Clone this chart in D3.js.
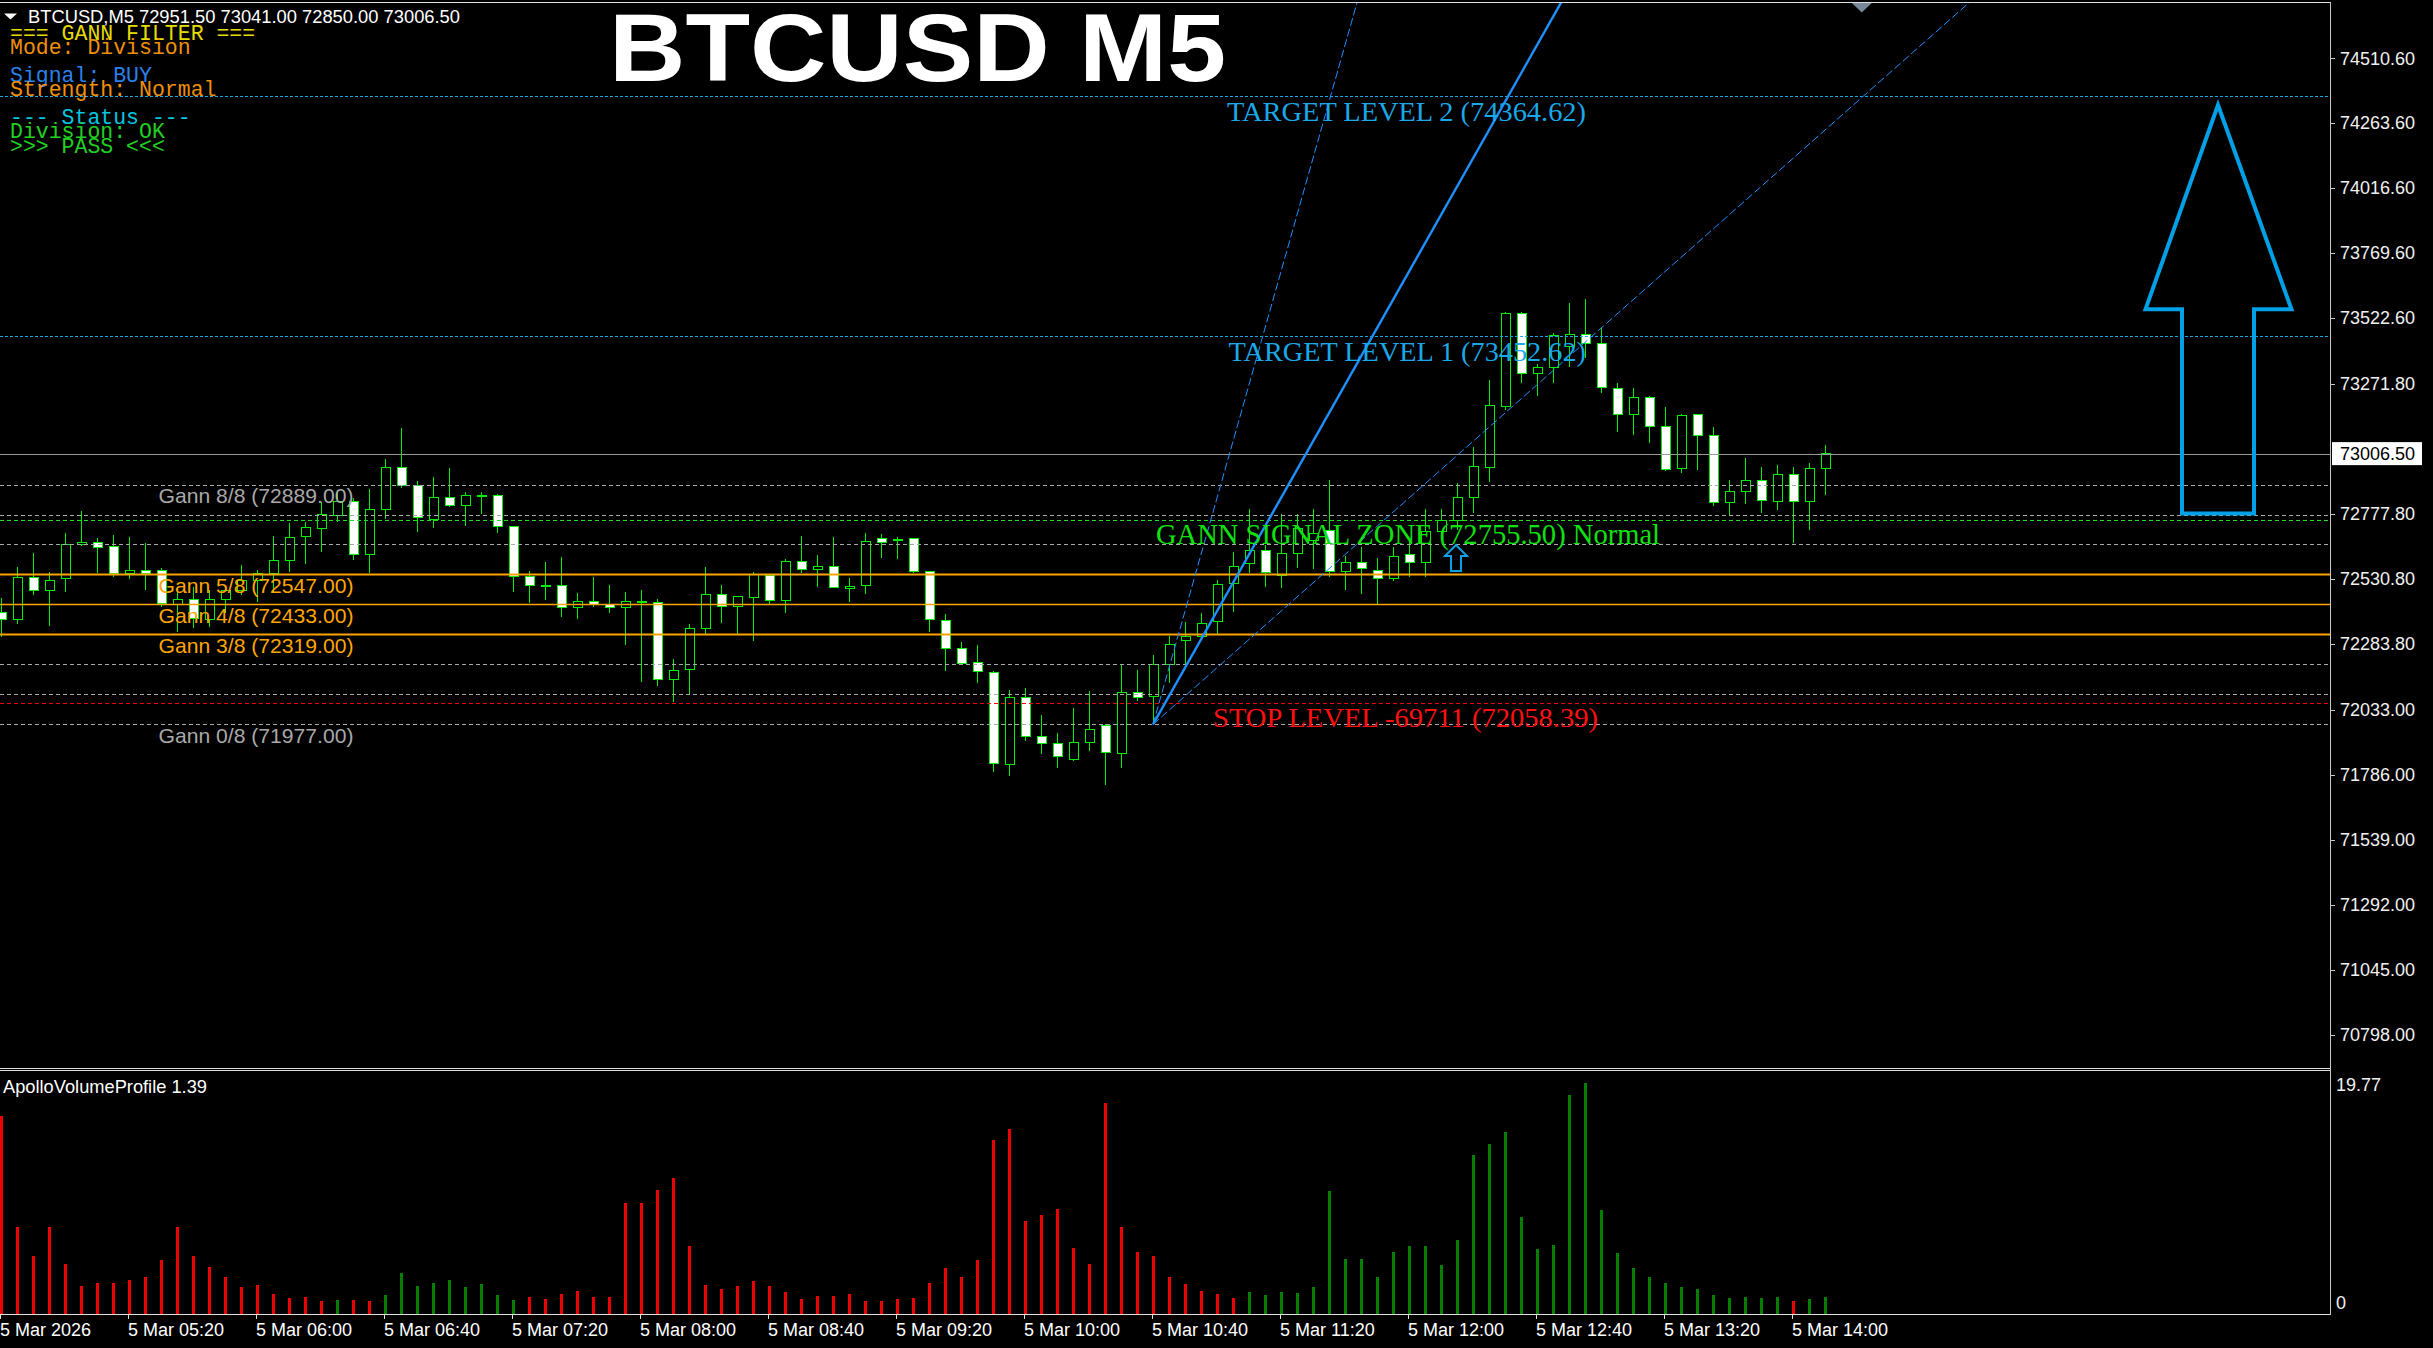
<!DOCTYPE html>
<html><head><meta charset="utf-8">
<script src="https://cdn.jsdelivr.net/npm/d3@7"></script>
<style>html,body{margin:0;padding:0;background:#000;overflow:hidden}</style>
</head><body>
<svg id="c" width="2433" height="1348"></svg>
<script>
// ---------------- DATA ----------------
const timeLabels = ["5 Mar 2026","5 Mar 05:20","5 Mar 06:00","5 Mar 06:40","5 Mar 07:20","5 Mar 08:00","5 Mar 08:40","5 Mar 09:20","5 Mar 10:00","5 Mar 10:40","5 Mar 11:20","5 Mar 12:00","5 Mar 12:40","5 Mar 13:20","5 Mar 14:00"];
const timeTickIdx = [0,8,16,24,32,40,48,56,64,72,80,88,96,104,112];

const open = [
72401.6,72376.5,72536.2,72486.8,72532.4,72661.7,72667.8,72652.6,72551.4,72561.3,
72561.3,72434.7,72452.6,72376.5,72452.6,72487.9,72523.3,72548.8,72599.3,72690.6,
72722.5,72770.4,72826.3,72623.7,72794.7,72954.4,72886.0,72757.9,72840.4,72811.1,
72847.2,72848.0,72728.6,72541.1,72504.3,72506.9,72422.2,72443.4,72434.7,72422.2,
72443.4,72439.6,72148.4,72186.4,72340.8,72471.6,72424.4,72460.2,72544.9,72447.2,
72598.2,72566.6,72578.0,72494.4,72505.8,72684.5,72679.9,72683.0,72557.5,72372.7,
72266.3,72211.5,72175.0,71825.2,72080.0,71930.2,71905.1,71844.2,71908.9,71972.0,
71867.1,72097.5,72082.3,72205.4,72295.2,72310.4,72367.4,72513.4,72589.4,72637.3,
72544.9,72627.5,72678.0,72716.0,72557.5,72591.7,72564.0,72532.4,72624.8,72591.7,
72709.6,72754.1,72840.4,72954.4,73187.5,73539.9,73311.8,73334.6,73412.9,73461.2,
73425.9,73254.8,73155.9,73220.6,73108.8,72950.6,73154.4,73076.1,72819.8,72864.3,
72906.1,72826.3,72927.8,72826.3,72951.5];
const high = [
72456.4,72574.2,72627.5,72555.2,72703.5,72788.3,72684.5,72697.0,72688.3,72665.5,
72570.4,72494.4,72500.5,72487.9,72503.1,72583.0,72564.0,72693.2,72743.8,72747.6,
72823.6,72868.1,72836.6,72870.8,72984.8,73102.7,72903.5,72916.4,72950.6,72860.5,
72860.5,72852.9,72728.6,72560.2,72593.2,72612.2,72475.4,72536.2,72506.9,72479.2,
72487.9,72452.6,72224.4,72358.7,72574.2,72506.9,72465.1,72556.4,72546.8,72605.8,
72693.2,72621.0,72688.3,72532.4,72704.6,72699.7,72688.3,72683.0,72557.5,72396.7,
72289.1,72278.8,72180.0,72107.7,72114.2,72012.7,71943.1,72038.2,72103.9,71977.3,
72202.8,72183.8,72240.8,72313.0,72365.1,72399.3,72525.9,72633.5,72794.7,72659.0,
72775.7,72776.9,72794.7,72906.1,72617.2,72650.3,72608.4,72652.6,72671.6,72794.7,
72794.7,72893.6,73030.5,73286.3,73546.0,73546.0,73347.2,73463.9,73578.0,73593.2,
73489.0,73276.1,73254.8,73225.5,73184.8,73155.9,73154.4,73108.8,72906.1,72988.6,
72956.7,72963.2,72954.4,72971.9,73041.0];
const low = [
72308.1,72359.8,72470.1,72352.2,72481.5,72655.2,72551.4,72536.2,72529.7,72487.9,
72424.4,72329.4,72342.3,72346.1,72400.5,72468.9,72443.4,72475.4,72557.5,72586.8,
72633.5,72747.6,72602.0,72551.4,72756.7,72874.6,72709.6,72724.8,72802.3,72732.4,
72776.9,72705.8,72481.5,72439.6,72449.9,72384.1,72376.5,72424.4,72401.6,72278.8,
72139.3,72122.9,72062.1,72091.4,72315.7,72363.6,72319.5,72295.2,72434.7,72401.6,
72553.7,72500.5,72498.2,72443.4,72473.9,72610.7,72606.9,72553.7,72329.4,72181.1,
72202.8,72135.5,71797.1,71781.9,71913.8,71864.4,71810.0,71838.9,71874.1,71746.5,
71810.0,72067.0,71977.0,72133.2,72196.3,72310.4,72316.8,72405.4,72551.4,72498.2,
72494.4,72570.4,72566.6,72538.5,72487.9,72471.6,72430.9,72523.3,72538.5,72536.2,
72684.5,72716.0,72779.5,72899.7,73172.3,73273.8,73225.5,73273.8,73334.6,73368.8,
73238.1,73089.8,73077.2,73045.7,72941.5,72931.6,72944.2,72807.3,72773.1,72813.7,
72781.8,72792.1,72667.8,72716.0,72850.0];
const close = [
72376.5,72536.2,72486.8,72524.8,72661.7,72667.8,72650.3,72548.8,72561.3,72551.4,
72437.4,72452.6,72380.3,72452.6,72487.9,72525.9,72548.8,72599.3,72688.3,72726.3,
72775.7,72823.6,72623.7,72794.7,72954.4,72887.1,72764.3,72840.4,72811.1,72848.0,
72849.1,72728.6,72541.1,72506.9,72505.8,72422.2,72443.4,72434.7,72422.2,72443.4,
72445.0,72148.4,72181.1,72342.3,72471.6,72427.1,72464.0,72547.6,72447.2,72598.2,
72566.6,72578.0,72498.2,72503.1,72673.1,72667.8,72680.7,72560.2,72376.5,72266.3,
72209.2,72180.0,71829.0,72080.0,71930.2,71905.1,71854.1,71908.9,71958.3,71870.9,
72099.0,72080.0,72205.4,72281.5,72313.0,72361.3,72509.6,72576.5,72640.0,72555.2,
72627.5,72722.5,72704.6,72557.5,72591.7,72570.4,72532.4,72614.5,72591.7,72709.6,
72751.4,72840.4,72958.2,73188.6,73539.9,73311.8,73334.6,73457.4,73461.2,73425.9,
73258.6,73155.9,73220.6,73111.4,72946.8,73152.1,73077.2,72819.8,72863.2,72903.5,
72830.1,72927.8,72826.3,72949.1,73006.5];

const volume = [
16.9,7.46,4.96,7.46,4.30,2.39,2.68,2.68,2.91,3.16,
4.62,7.46,4.96,4.02,3.16,2.31,2.48,1.71,1.37,1.45,
1.14,1.22,1.22,1.14,1.62,3.53,2.39,2.68,2.91,2.31,
2.56,1.62,1.20,1.45,1.28,1.71,1.97,1.45,1.45,9.49,
9.49,10.6,11.62,5.81,2.48,2.14,2.39,2.82,2.39,1.88,
1.28,1.54,1.54,1.71,1.11,1.11,1.28,1.37,2.68,3.96,
3.16,4.62,14.87,15.81,7.95,8.46,8.97,5.64,4.27,18.0,
7.46,5.30,4.96,3.16,2.56,1.97,1.71,1.37,1.88,1.62,
1.88,1.79,2.31,10.51,4.70,4.70,3.16,5.30,5.81,5.81,
4.19,6.32,13.59,14.53,15.56,8.29,5.56,5.90,18.72,19.74,
8.89,5.21,3.93,3.16,2.65,2.31,2.14,1.62,1.37,1.45,
1.37,1.45,1.11,1.28,1.45];
const volumeDir = [
"d","d","d","d","d","d","d","d","d","d",
"d","d","d","d","d","d","d","d","d","d",
"d","u","d","d","u","u","u","u","u","u",
"u","u","u","d","d","d","d","d","d","d",
"d","d","d","d","d","d","d","d","d","d",
"d","d","d","d","d","d","d","d","d","d",
"d","d","d","d","d","d","d","d","d","d",
"d","d","d","d","d","d","d","d","u","u",
"u","u","u","u","u","u","u","u","u","u",
"u","u","u","u","u","u","u","u","u","u",
"u","u","u","u","u","u","u","u","u","u",
"u","u","d","u","u"];

const priceTicks = [74510.60,74263.60,74016.60,73769.60,73522.60,73271.80,72777.80,72530.80,72283.80,72033.00,71786.00,71539.00,71292.00,71045.00,70798.00];
const volMax = 19.77;

const gannNames  = ["8/8","7/8","6/8","5/8","4/8","3/8","2/8","1/8","0/8"];
const gannPrices = [72889,72775,72661,72547,72433,72319,72205,72091,71977];
const gannLabelled = ["8/8","5/8","4/8","3/8","0/8"];

const lastPrice = 73006.50;
const headerOHLC = [72951.50,73041.00,72850.00,73006.50];
const target1 = 73452.62, target2 = 74364.62, stopLevel = 72058.39, stopPips = -69711, signalZone = 72755.50;
const fanOriginBar = 72, fanOriginPrice = 71977, fanRate = 107.6;
const fanMultipliers = [2, 1, 0.5];
const signalArrowBar = 91, signalArrowPrice = 72659;
const bigArrowPrices = {tip:74332, head:73555, bottom:72779};

// ---------------- LAYOUT ----------------
const W=2433, H=1348, plotR=2330, mainTop=3, mainBot=1068, volBot=1314;
const svg = d3.select("#c");
svg.append("rect").attr("width",W).attr("height",H).attr("fill","#000");

const x  = d3.scaleLinear().domain([0,114]).range([1,1825]);
const y  = d3.scaleLinear().domain([74510.6,70798]).range([58,1034.5]);
const yv = d3.scaleLinear().domain([0,volMax]).range([volBot,1082.7]);
const px = v => Math.round(v)+0.5;

svg.append("defs").append("clipPath").attr("id","mainClip")
  .append("rect").attr("x",0).attr("y",mainTop).attr("width",plotR).attr("height",mainBot-mainTop);

const main = svg.append("g").attr("clip-path","url(#mainClip)");

// ---- candles ----
const idx = d3.range(open.length);
const cg = main.append("g").attr("shape-rendering","crispEdges");
const candleGreen = "#00EE00";
cg.selectAll("line.w").data(idx).join("line")
  .attr("x1",i=>x(i)+0.5).attr("x2",i=>x(i)+0.5)
  .attr("y1",i=>y(high[i])).attr("y2",i=>y(low[i]))
  .attr("stroke",candleGreen).attr("stroke-width",1);
cg.selectAll("rect.b").data(idx).join("rect")
  .attr("x",i=>x(i)-4).attr("width",9)
  .attr("y",i=>y(Math.max(open[i],close[i])))
  .attr("height",i=>Math.max(Math.abs(y(open[i])-y(close[i])),1))
  .attr("fill",i=>close[i]>=open[i]?"#000":"#FFFFFF")
  .attr("stroke",candleGreen).attr("stroke-width",1);

// ---- horizontal levels ----
function hline(p, color, w, dash){
  main.append("line").attr("x1",0).attr("x2",plotR)
    .attr("y1",px(y(p))).attr("y2",px(y(p)))
    .attr("stroke",color).attr("stroke-width",w)
    .attr("stroke-dasharray",dash||null);
}
gannNames.forEach((n,k)=>{
  const p = gannPrices[k];
  if(n==="5/8"||n==="3/8") hline(p,"#FFA500",2.2);
  else if(n==="4/8") hline(p,"#FFA500",1.3);
  else hline(p,"#A9A9A9",1,"4,3");
});
hline(target2,"#1AA8E8",1,"3,2");
hline(target1,"#1AA8E8",1,"3,2");
hline(signalZone,"#22DD22",1,"4,3");
hline(stopLevel,"#FF0000",1,"4,3");
hline(lastPrice,"#9A9A9A",1);

// ---- Gann fan ----
fanMultipliers.forEach(m=>{
  const k = 60;
  main.append("line")
    .attr("x1",x(fanOriginBar)).attr("y1",y(fanOriginPrice))
    .attr("x2",x(fanOriginBar+k)).attr("y2",y(fanOriginPrice+fanRate*m*k))
    .attr("stroke","#1E90FF")
    .attr("stroke-width",m===1?2.4:1)
    .attr("stroke-dasharray",m===1?null:"8,3");
});

// ---- signal arrow (hollow) ----
{
  const tx = x(signalArrowBar)-1, ty = y(signalArrowPrice);
  const pts = [[tx,ty],[tx+11,ty+11],[tx+5,ty+11],[tx+5,ty+26],[tx-5,ty+26],[tx-5,ty+11],[tx-11,ty+11]];
  main.append("path").attr("d",d3.line()(pts)+"Z").attr("fill","none")
    .attr("stroke","#0A9FE6").attr("stroke-width",2);
}

// ---- Big arrow ----
{
  const cx = plotR-112;
  const t=y(bigArrowPrices.tip), hb=y(bigArrowPrices.head), b=y(bigArrowPrices.bottom);
  const pts=[[cx,t],[cx+73.5,hb],[cx+36,hb],[cx+36,b],[cx-36,b],[cx-36,hb],[cx-72.5,hb]];
  main.append("path").attr("d",d3.line()(pts)+"Z").attr("fill","none")
    .attr("stroke","#00A0E6").attr("stroke-width",4).attr("stroke-linejoin","miter");
}

// ---- chart shift marker ----
{
  const cx = x(116.3);
  svg.append("path").attr("d",d3.line()([[cx-10,3],[cx+10,3],[cx,12.5]])+"Z").attr("fill","#778899");
}

// ---- texts on main ----
const T = main.append("g");
gannNames.forEach((n,k)=>{
  if(!gannLabelled.includes(n)) return;
  const orange = (n==="5/8"||n==="4/8"||n==="3/8");
  T.append("text").attr("x",x(0)+157.5).attr("y",y(gannPrices[k])+18.3)
    .attr("font-family","Liberation Sans, Arial, sans-serif").attr("font-size",21)
    .attr("textLength",195).attr("lengthAdjust","spacingAndGlyphs")
    .attr("fill",orange?"#FFA500":"#A9A9A9")
    .text(`Gann ${n} (${gannPrices[k].toFixed(2)})`);
});
function serif(txt, xx, p, color, len, fs){
  T.append("text").attr("x",xx).attr("y",y(p)+24.3)
    .attr("font-family","Liberation Serif, 'Times New Roman', serif").attr("font-size",fs||28)
    .attr("textLength",len).attr("lengthAdjust","spacingAndGlyphs")
    .attr("fill",color).text(txt);
}
serif(`TARGET LEVEL 2 (${target2.toFixed(2)})`, x(fanOriginBar)+74, target2, "#1AA8E8", 359);
serif(`TARGET LEVEL 1 (${target1.toFixed(2)})`, x(fanOriginBar)+75.5, target1, "#1AA8E8", 357.5);
serif(`GANN SIGNAL ZONE (${signalZone.toFixed(2)}) Normal`, x(fanOriginBar)+3, signalZone, "#11E011", 504, 29);
serif(`STOP LEVEL ${stopPips} (${stopLevel.toFixed(2)})`, x(fanOriginBar)+60, stopLevel, "#FF1010", 385);

// title
svg.append("text").attr("x",609).attr("y",81)
  .attr("font-family","Liberation Sans, Arial, sans-serif").attr("font-weight","bold")
  .attr("font-size",97).attr("textLength",617).attr("lengthAdjust","spacingAndGlyphs")
  .attr("fill","#FFFFFF").text("BTCUSD M5");

// header
svg.append("path").attr("d","M4,13.5L17,13.5L10.5,19.5Z").attr("fill","#FFFFFF");
svg.append("text").attr("x",28).attr("y",23)
  .attr("font-family","Liberation Sans, Arial, sans-serif").attr("font-size",18)
  .attr("textLength",432).attr("lengthAdjust","spacingAndGlyphs")
  .attr("fill","#FFFFFF").text("BTCUSD,M5  "+headerOHLC.map(v=>v.toFixed(2)).join(" "));

const infoLines = [
  ["=== GANN FILTER ===","#E6DC00",40],
  ["Mode: Division","#EE900A",54],
  ["Signal: BUY","#2A80EA",82],
  ["Strength: Normal","#EE900A",96],
  ["--- Status ---","#00C8E0",124],
  ["Division: OK","#22D022",138],
  [">>> PASS <<<","#22D022",153]
];
infoLines.forEach(([t,c,yy])=>{
  svg.append("text").attr("x",10).attr("y",yy)
    .attr("font-family","Liberation Mono, 'Courier New', monospace").attr("font-size",21.5)
    .attr("fill",c).attr("xml:space","preserve").style("white-space","pre").text(t);
});

// ---- frame lines ----
const frame = svg.append("g").attr("shape-rendering","crispEdges");
frame.append("line").attr("x1",0).attr("x2",plotR+1).attr("y1",2.5).attr("y2",2.5).attr("stroke","#E0E0E0");
frame.append("line").attr("x1",0).attr("x2",plotR+1).attr("y1",1068.5).attr("y2",1068.5).attr("stroke","#E0E0E0");
frame.append("line").attr("x1",0).attr("x2",plotR+1).attr("y1",1070.5).attr("y2",1070.5).attr("stroke","#E0E0E0");
frame.append("line").attr("x1",0).attr("x2",plotR+1).attr("y1",volBot+0.5).attr("y2",volBot+0.5).attr("stroke","#E0E0E0");
frame.append("line").attr("x1",plotR+0.5).attr("x2",plotR+0.5).attr("y1",2).attr("y2",volBot+1).attr("stroke","#C8C8C8");

// ---- price axis ----
const ax = svg.append("g");
priceTicks.forEach(p=>{
  const yy = y(p);
  ax.append("line").attr("x1",plotR+1).attr("x2",plotR+5).attr("y1",px(yy)).attr("y2",px(yy)).attr("stroke","#C8C8C8");
  ax.append("text").attr("x",2340).attr("y",yy+6.5)
    .attr("font-family","Liberation Sans, Arial, sans-serif").attr("font-size",18)
    .attr("fill","#F0F0F0").text(p.toFixed(2));
});
{
  const yy=y(lastPrice);
  ax.append("rect").attr("x",2332).attr("y",yy-11.5).attr("width",90).attr("height",23).attr("fill","#FFFFFF");
  ax.append("text").attr("x",2340).attr("y",yy+6.5)
    .attr("font-family","Liberation Sans, Arial, sans-serif").attr("font-size",18)
    .attr("fill","#000").text(lastPrice.toFixed(2));
}

// ---- volume panel ----
const vg = svg.append("g").attr("shape-rendering","crispEdges");
vg.selectAll("rect").data(idx).join("rect")
  .attr("x",i=>x(i)-1).attr("width",3)
  .attr("y",i=>yv(volume[i])).attr("height",i=>volBot-yv(volume[i]))
  .attr("fill",i=>volumeDir[i]==="u"?"#008000":"#EE0000");
svg.append("text").attr("x",3).attr("y",1092.5)
  .attr("font-family","Liberation Sans, Arial, sans-serif").attr("font-size",18)
  .attr("textLength",204).attr("lengthAdjust","spacingAndGlyphs")
  .attr("fill","#FFFFFF").text("ApolloVolumeProfile 1.39");
svg.append("text").attr("x",2336).attr("y",yv(volMax)+8)
  .attr("font-family","Liberation Sans, Arial, sans-serif").attr("font-size",18)
  .attr("fill","#F0F0F0").text(volMax.toFixed(2));
svg.append("text").attr("x",2336).attr("y",volBot-5)
  .attr("font-family","Liberation Sans, Arial, sans-serif").attr("font-size",18)
  .attr("fill","#F0F0F0").text("0");

// ---- time axis ----
timeTickIdx.forEach((b,k)=>{
  const xx = x(b)-1;
  svg.append("line").attr("x1",px(xx)).attr("x2",px(xx)).attr("y1",volBot).attr("y2",volBot+5)
    .attr("stroke","#E0E0E0").attr("shape-rendering","crispEdges");
  svg.append("text").attr("x",xx).attr("y",1336)
    .attr("font-family","Liberation Sans, Arial, sans-serif").attr("font-size",18)
    .attr("fill","#FFFFFF").text(timeLabels[k]);
});
</script>
</body></html>
